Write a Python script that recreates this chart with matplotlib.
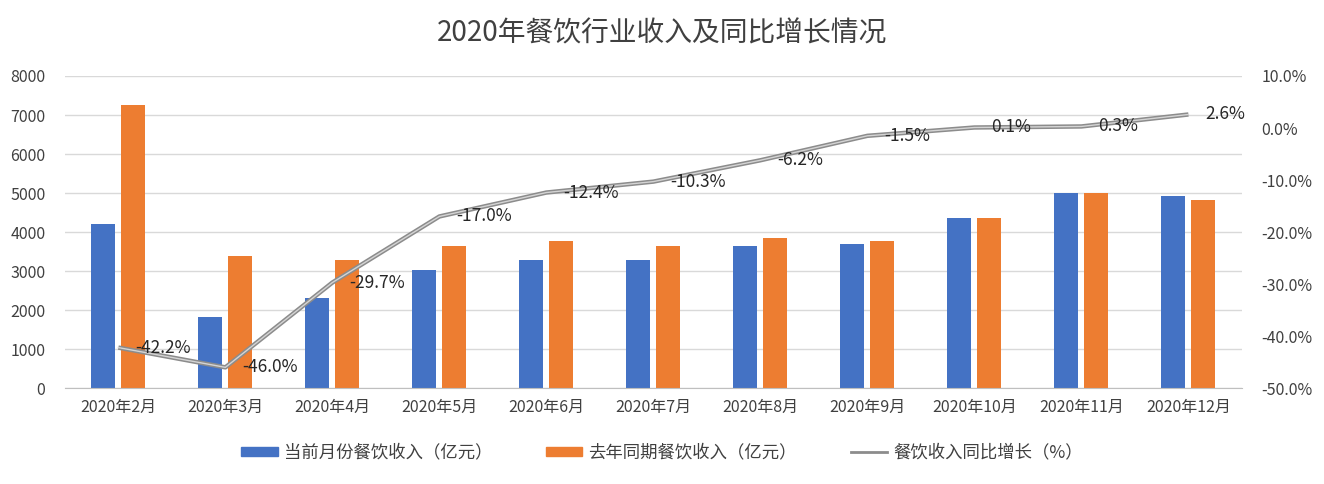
import matplotlib
matplotlib.use("Agg")
import matplotlib.pyplot as plt
import numpy as np
from matplotlib.ticker import FuncFormatter
from matplotlib.lines import Line2D
from matplotlib.patches import Patch

plt.rcParams['font.family'] = ['Noto Sans CJK SC', 'DejaVu Sans']

months = ["2020年2月", "2020年3月", "2020年4月", "2020年5月", "2020年6月", "2020年7月",
          "2020年8月", "2020年9月", "2020年10月", "2020年11月", "2020年12月"]
current = [4200, 1830, 2300, 3030, 3290, 3280, 3650, 3700, 4370, 5000, 4920]
last_year = [7250, 3380, 3290, 3650, 3760, 3650, 3860, 3760, 4370, 5000, 4830]
growth = [-42.2, -46.0, -29.7, -17.0, -12.4, -10.3, -6.2, -1.5, 0.1, 0.3, 2.6]

blue = "#4472C4"
orange = "#ED7D31"
grid_c = "#d9d9d9"
txt = "#404040"

fig = plt.figure(figsize=(13.24, 4.84), dpi=100)
ax = fig.add_axes([0.049, 0.198, 0.889, 0.645])
ax2 = ax.twinx()

x = np.arange(len(months))
w = 0.225
ax.bar(x - 0.14, current, w, color=blue, zorder=2)
ax.bar(x + 0.14, last_year, w, color=orange, zorder=2)

ax.set_ylim(0, 8000)
ax.set_yticks(range(0, 8001, 1000))
ax.set_xlim(-0.5, len(months) - 0.5)
ax.set_xticks(x)
ax.set_xticklabels(months)
ax.grid(axis='y', color=grid_c, lw=1, zorder=0)
ax.set_axisbelow(True)
for s in ["top", "left", "right"]:
    ax.spines[s].set_visible(False)
ax.spines["bottom"].set_color("#bfbfbf")
ax.tick_params(axis='both', length=0, labelsize=11.5, colors=txt)
ax.tick_params(axis='x', pad=8)
ax.tick_params(axis='y', pad=14)

ax2.plot(x, growth, color="#8c8c8c", lw=3.2, zorder=3, solid_capstyle='butt')
ax2.plot(x, growth, color="#d4d4d4", lw=1.0, zorder=4)
ax2.set_ylim(-50, 10)
ax2.set_yticks(range(-50, 11, 10))
ax2.yaxis.set_major_formatter(FuncFormatter(lambda v, p: f"{v:.1f}%"))
for s in ax2.spines.values():
    s.set_visible(False)
ax2.tick_params(axis='y', length=0, labelsize=11.5, colors=txt, pad=14)

for xi, g in zip(x, growth):
    ax2.annotate(f"{g:.1f}%", (xi, g), xytext=(12, 0), textcoords='offset points',
                 ha='left', va='center', fontsize=12.5, color="#262626", zorder=5)

fig.text(0.5, 0.93, "2020年餐饮行业收入及同比增长情况", ha='center', va='center',
         fontsize=20, color=txt)

handles = [Patch(color=blue), Patch(color=orange),
           Line2D([], [], color="#8c8c8c", lw=2)]
labels = ["当前月份餐饮收入（亿元）", "去年同期餐饮收入（亿元）", "餐饮收入同比增长（%）"]
fig.legend(handles, labels, loc='center', bbox_to_anchor=(0.5, 0.065), ncol=3,
           frameon=False, fontsize=12.5, handlelength=2.1, handleheight=0.45,
           columnspacing=3.1, handletextpad=0.35, labelcolor=txt)

fig.savefig("out.png", dpi=100)
